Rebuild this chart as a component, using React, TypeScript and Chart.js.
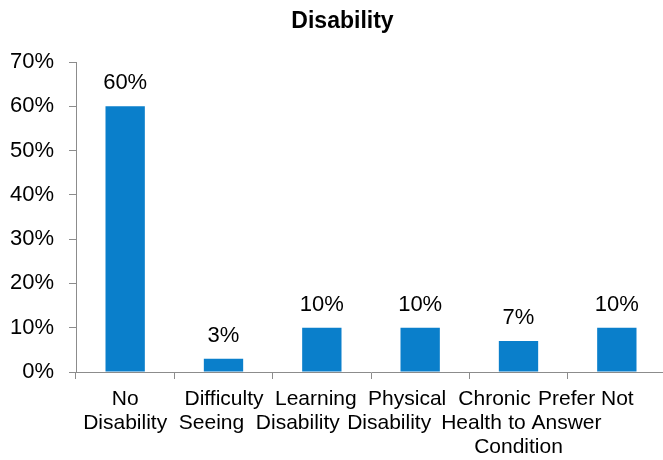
import React, { useEffect, useRef } from "react";
import { Chart, registerables } from "chart.js";

Chart.register(...registerables);

const TITLE = "Disability";
const categories: string[][] = [
  ["No", "Disability"],
  ["Difficulty", "Seeing"],
  ["Learning", "Disability"],
  ["Physical", "Disability"],
  ["Chronic", "Health", "Condition"],
  ["Prefer Not", "to Answer"],
];
const values: number[] = [60, 3, 10, 10, 7, 10];
const yTicks: number[] = [0, 10, 20, 30, 40, 50, 60, 70];

// horizontal nudges of each label line (the reference flows its label rows)
const lineShift: number[][] = [
  [0, 0],
  [0.5, -12],
  [-6, -24],
  [-13, -31],
  [-24, -47, 0],
  [-31, -62],
];

const FONT = "'Liberation Sans', Arial, sans-serif";
const BAR = "#0A7FCB";
const AXIS = "#8C8C8C";

const extras = {
  id: "extras",
  afterDraw(chart: any) {
    const ctx = chart.ctx;
    const meta = chart.getDatasetMeta(0);
    const xs = chart.scales.x;
    const area = chart.chartArea;
    ctx.save();
    ctx.fillStyle = "#000";
    ctx.textAlign = "center";
    ctx.textBaseline = "alphabetic";
    // value labels
    ctx.font = `22px ${FONT}`;
    meta.data.forEach((bar: any, i: number) => {
      ctx.fillText(`${values[i]}%`, bar.x, bar.y - 17);
    });
    // category labels
    ctx.font = `21px ${FONT}`;
    categories.forEach((lines, i) => {
      const cx = xs.getPixelForValue(i);
      lines.forEach((t, j) => {
        ctx.fillText(t, cx + (lineShift[i]?.[j] ?? 0), area.bottom + 33 + j * 24);
      });
    });
    // title
    ctx.font = `bold 23px ${FONT}`;
    ctx.fillText(TITLE, chart.width / 2 + 9.5, 27.5);
    ctx.restore();
  },
};

export default function App() {
  const ref = useRef<HTMLCanvasElement | null>(null);
  useEffect(() => {
    if (!ref.current) return;
    const chart = new Chart(ref.current, {
      type: "bar",
      data: {
        labels: categories.map((c) => c.join(" ")),
        datasets: [
          {
            data: values,
            backgroundColor: BAR,
            borderWidth: 0,
            barPercentage: 0.4,
            categoryPercentage: 1,
          },
        ],
      },
      options: {
        animation: false,
        responsive: false,
        maintainAspectRatio: false,
        layout: { padding: { top: 62, left: 0, right: 0, bottom: 0 } },
        plugins: {
          legend: { display: false },
          tooltip: { enabled: false },
          title: { display: false },
        },
        scales: {
          x: {
            offset: true,
            grid: {
              offset: true,
              drawOnChartArea: false,
              drawTicks: true,
              tickLength: 7,
              color: AXIS,
            },
            border: { display: true, color: AXIS, width: 1 },
            ticks: { display: false, autoSkip: false, maxRotation: 0 },
            afterFit: (s: any) => {
              s.height = 88;
              s.paddingLeft = 0;
              s.paddingRight = 0;
            },
          },
          y: {
            min: 0,
            max: 70,
            afterBuildTicks: (s: any) => {
              s.ticks = yTicks.map((v) => ({ value: v }));
            },
            grid: {
              drawOnChartArea: false,
              drawTicks: true,
              tickLength: 7,
              color: AXIS,
            },
            border: { display: true, color: AXIS, width: 1 },
            ticks: {
              color: "#000",
              font: { family: FONT, size: 22 },
              padding: 15,
              callback: (v: any) => `${v}%`,
            },
            afterFit: (s: any) => {
              s.width = 76;
            },
          },
        },
      },
      plugins: [extras],
    });
    return () => chart.destroy();
  }, []);
  return (
    <div
      style={{
        position: "fixed",
        left: 0,
        top: 0,
        width: 663,
        height: 460,
        overflow: "hidden",
        background: "#fff",
      }}
    >
      <canvas ref={ref} width={666} height={460} style={{ display: "block" }} />
    </div>
  );
}
